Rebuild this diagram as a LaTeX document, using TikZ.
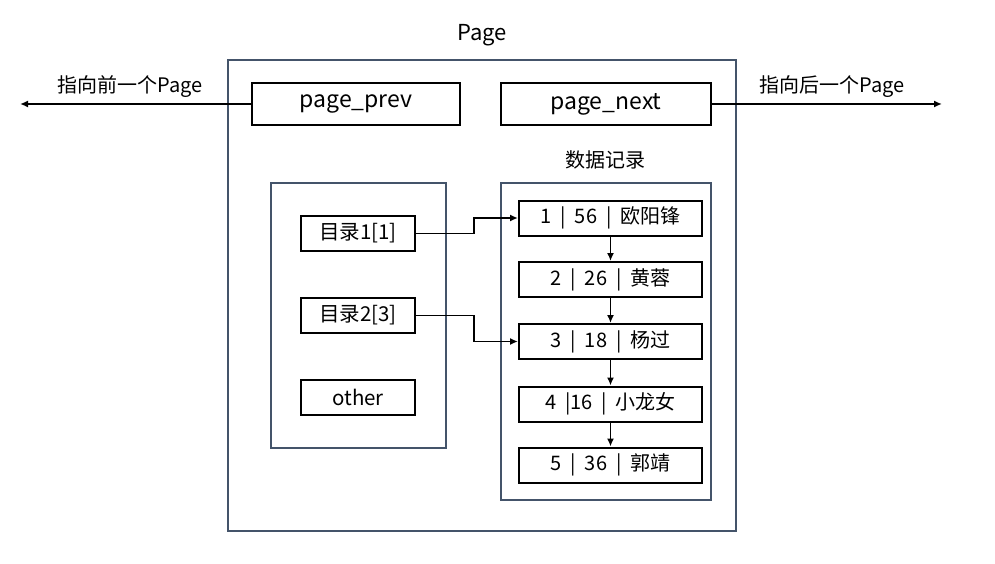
\documentclass[tikz,border=0pt]{standalone}
\usepackage{fontspec}
\setmainfont{Noto Sans CJK SC}
\usepackage{xcolor}
\usetikzlibrary{arrows.meta, positioning, calc}
\definecolor{frameblue}{HTML}{44546A}

\begin{document}
\begin{tikzpicture}[x=1pt, y=-1pt,
    frame/.style={draw=frameblue, line width=1.7pt, inner sep=0pt},
    field/.style={draw, line width=2pt, inner sep=0pt, font=\fontsize{23}{27}\selectfont},
    entry/.style={draw, line width=2pt, inner sep=0pt, minimum width=114pt, minimum height=35pt, font=\fontsize{20.5}{24}\selectfont},
    rec/.style={draw, line width=2pt, inner sep=0pt, minimum width=183pt, minimum height=35pt, font=\fontsize{20}{24}\selectfont},
    lbl/.style={font=\fontsize{20}{24}\selectfont},
    link/.style={line width=1.6pt, -{Latex[length=8pt, width=7pt]}}]
    \useasboundingbox (0,0) rectangle (995,564);
    % page and its parts
    \node[frame, minimum width=508pt, minimum height=471pt] (page) at (482,295.5) {};
    \node[font=\fontsize{22}{26}\selectfont] (title) at (482,35) {Page};
    \node[field, minimum width=208pt, minimum height=42pt] (prev) at (356,104) {page\_prev};
    \node[field, minimum width=210pt, minimum height=42pt] (next) at (606,104) {page\_next};
    \coordinate (prevend) at (20,104);
    \coordinate (nextend) at (942,104);
    \draw[link] (prev) -- (prevend);
    \draw[link] (next) -- (nextend);
    \node[lbl] (prevlbl) at (130,87) {指向前一个Page};
    \node[lbl] (nextlbl) at (832,87) {指向后一个Page};
    % directory
    \node[frame, minimum width=175pt, minimum height=265pt] (dir) at (358.5,315.5) {};
    \node[entry] (dir1) at (358,233.5) {目录1[1]};
    \node[entry] (dir2) at (358,315.5) {目录2[3]};
    \node[entry] (other) at (358,397) {other};
    % records
    \node[frame, minimum width=210pt, minimum height=317pt] (data) at (606,341.5) {};
    \node[lbl] (datalbl) at (605,160) {数据记录};
    \node[rec] (rec1) at (610.5,218) {1 \ |\ \ 56 \ |\ \ 欧阳锋};
    \node[rec] (rec2) at (610.5,279.5) {2 \ |\ \ 26 \ |\ \ 黄蓉};
    \node[rec] (rec3) at (610.5,341.5) {3 \ |\ \ 18 \ |\ \ 杨过};
    \node[rec] (rec4) at (610.5,404) {4 \ |16 \ |\ \ 小龙女};
    \node[rec] (rec5) at (610.5,465) {5 \ |\ \ 36 \ |\ \ 郭靖};
    \foreach \a/\b in {rec1/rec2, rec2/rec3, rec3/rec4, rec4/rec5}
        \draw[link] (\a) -- (\b);
    \draw[link] (dir1.east) -- ++(58,0) |- (rec1.west);
    \draw[link] (dir2.east) -- ++(58,0) |- (rec3.west);
\end{tikzpicture}
\end{document}
